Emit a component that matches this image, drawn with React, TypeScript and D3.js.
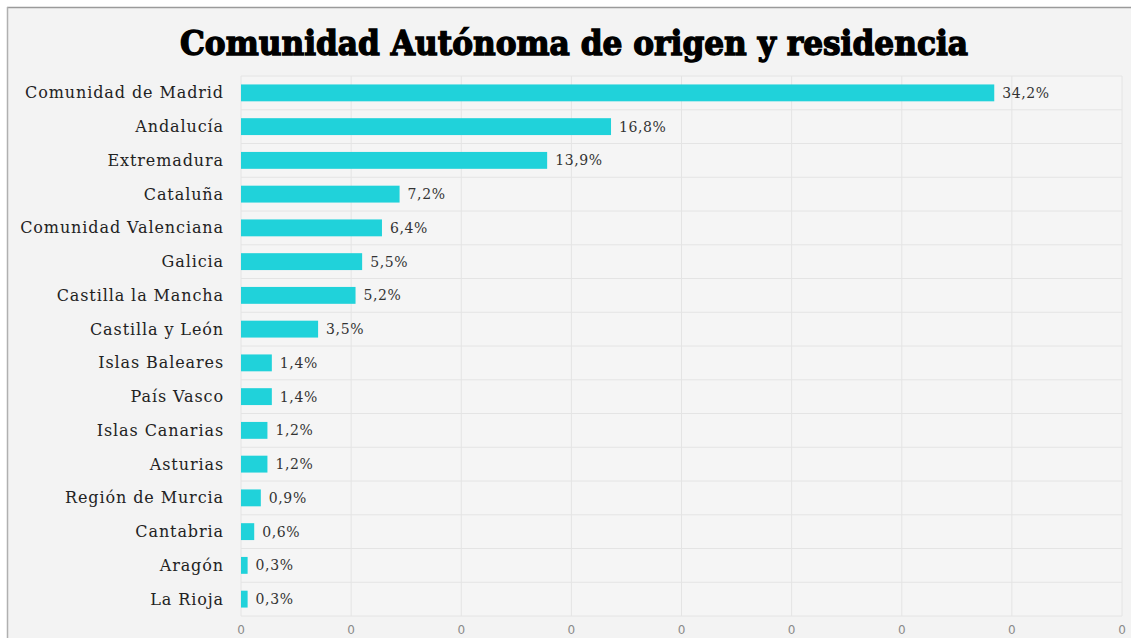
import React from "react";
import * as d3 from "d3";

const regions = [
  "Comunidad de Madrid",
  "Andalucía",
  "Extremadura",
  "Cataluña",
  "Comunidad Valenciana",
  "Galicia",
  "Castilla la Mancha",
  "Castilla y León",
  "Islas Baleares",
  "País Vasco",
  "Islas Canarias",
  "Asturias",
  "Región de Murcia",
  "Cantabria",
  "Aragón",
  "La Rioja",
];
const shares = [34.2, 16.8, 13.9, 7.2, 6.4, 5.5, 5.2, 3.5, 1.4, 1.4, 1.2, 1.2, 0.9, 0.6, 0.3, 0.3];
const tickValues = [0, 5, 10, 15, 20, 25, 30, 35, 40];
const tickLabels = ["0", "0", "0", "0", "0", "0", "0", "0", "0"];

const W = 1131;
const H = 638;
const left = 241;
const right = 1122;
const top = 76;
const bottom = 616;

export default function App() {
  const x = d3.scaleLinear().domain([0, 40]).range([left, right]);
  const y = d3.scaleBand().domain(regions).range([top, bottom]).paddingInner(0.5).paddingOuter(0.25);
  const rows = d3.scaleBand().domain(regions).range([top, bottom]);
  const fmt = (v: number) => v.toFixed(1).replace(".", ",") + "%";
  const slab = "'DejaVu Serif', 'Liberation Serif', serif";

  return (
    <svg width={W} height={H} style={{ position: "absolute", left: 0, top: 0 }}>
      <rect x={0} y={0} width={W} height={H} fill="#ffffff" />
      <rect x={7} y={7} width={W} height={H} fill="#f3f3f3" />
      <line x1={7} x2={W} y1={7.5} y2={7.5} stroke="#9a9a9a" strokeWidth={1.5} />
      <line x1={7.5} x2={7.5} y1={7} y2={H} stroke="#b0b0b0" strokeWidth={1.5} />

      <text
        x={574}
        y={55}
        textAnchor="middle"
        fontFamily={slab}
        fontWeight={900}
        fontSize={33}
        stroke="#000"
        strokeWidth={1.4}
        textLength={788}
        lengthAdjust="spacingAndGlyphs"
        fill="#000"
      >
        Comunidad Autónoma de origen y residencia
      </text>

      <rect x={left} y={top} width={right - left} height={bottom - top} fill="#f5f5f5" />
      {regions.map((r) => (
        <line key={"h" + r} x1={left} x2={right} y1={rows(r)!} y2={rows(r)!} stroke="#e4e4e4" />
      ))}
      <line x1={left} x2={right} y1={bottom} y2={bottom} stroke="#e4e4e4" />
      {tickValues.map((t) => (
        <line key={"v" + t} x1={x(t)} x2={x(t)} y1={top} y2={bottom} stroke="#e4e4e4" />
      ))}

      {regions.map((r, i) => (
        <g key={r}>
          <rect x={x(0)} y={y(r)!} width={x(shares[i]) - x(0)} height={y.bandwidth()} fill="#20d2da" />
          <text
            x={224}
            y={y(r)! + y.bandwidth() / 2}
            dy="0.35em"
            textAnchor="end"
            fontFamily={slab}
            fontSize={16}
            letterSpacing={0.9}
            fill="#222"
          >
            {r}
          </text>
          <text
            x={x(shares[i]) + 8}
            y={y(r)! + y.bandwidth() / 2}
            dy="0.35em"
            fontFamily={slab}
            fontSize={14}
            letterSpacing={0.6}
            fill="#333"
          >
            {fmt(shares[i])}
          </text>
        </g>
      ))}

      {tickValues.map((t, i) => (
        <text
          key={"t" + t}
          x={x(t)}
          y={634}
          textAnchor="middle"
          fontFamily="'DejaVu Sans', sans-serif"
          fontSize={12}
          fill="#8a8a8a"
        >
          {tickLabels[i]}
        </text>
      ))}
    </svg>
  );
}
